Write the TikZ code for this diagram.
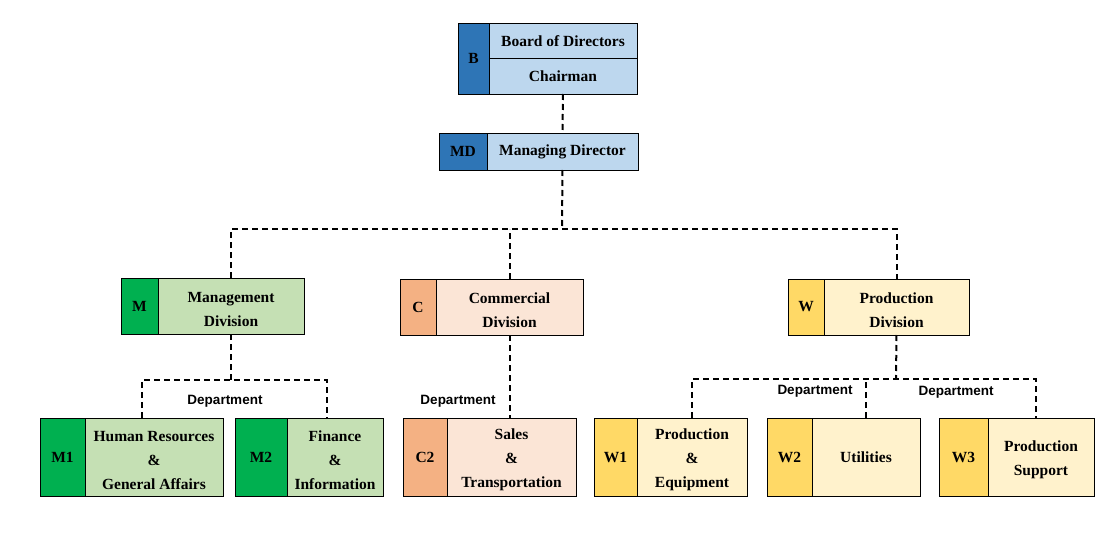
\documentclass[tikz,border=0pt]{standalone}
\usepackage{fontspec}
\setmainfont{Liberation Serif}
\newfontfamily\deptfont{Liberation Sans}
\usetikzlibrary{positioning}

\definecolor{blueD}{HTML}{2E75B6}
\definecolor{blueL}{HTML}{BDD7EE}
\definecolor{greenD}{HTML}{00B050}
\definecolor{greenL}{HTML}{C5E0B4}
\definecolor{orangeD}{HTML}{F4B183}
\definecolor{orangeL}{HTML}{FBE5D6}
\definecolor{yellowD}{HTML}{FFD966}
\definecolor{yellowL}{HTML}{FFF2CC}

% pushes multi-line labels a little lower
\newcommand{\lowstrut}{\rule{0pt}{17pt}}

\tikzset{
    box/.style = {draw, line width=0.8pt, inner sep=0pt, outer sep=0pt, align=center,
                  font=\bfseries\fontsize{15.5}{24}\selectfont},
    codebox/.style = {box, fill=#1},
    namebox/.style = {box, fill=#1},
    link/.style = {line width=2pt, dash pattern=on 6pt off 4pt},
    dept/.style = {font=\deptfont\bfseries\fontsize{13.5}{16}\selectfont, inner sep=0pt}
}

\begin{document}
\begin{tikzpicture}[x=1pt, y=-1pt]
    \useasboundingbox (0,0) rectangle (1111,556);

    % board
    \node [codebox=blueD, minimum width=31, minimum height=71] (bcode) at (473.5,58.5) {B};
    \node [namebox=blueL, minimum width=148, minimum height=35.5, anchor=north west] (board) at (bcode.north east) {Board of Directors};
    \node [namebox=blueL, minimum width=148, minimum height=35.5, below=0pt of board] (chair) {Chairman};

    % managing director
    \node [codebox=blueD, minimum width=48, minimum height=37] (mdcode) at (463,151.5) {MD};
    \node [namebox=blueL, minimum width=151, minimum height=37, right=0pt of mdcode] (mdname) {Managing Director};

    % divisions
    \node [codebox=greenD, minimum width=37, minimum height=56] (mcode) at (139.5,306) {M};
    \node [namebox=greenL, minimum width=146, minimum height=56, right=0pt of mcode] (mname) {\lowstrut Management\\Division};

    \node [codebox=orangeD, minimum width=36, minimum height=56] (ccode) at (418,307) {C};
    \node [namebox=orangeL, minimum width=147, minimum height=56, right=0pt of ccode] (cname) {\lowstrut Commercial\\Division};

    \node [codebox=yellowD, minimum width=36, minimum height=56] (wcode) at (806,307) {W};
    \node [namebox=yellowL, minimum width=145, minimum height=56, right=0pt of wcode] (wname) {\lowstrut Production\\Division};

    % departments
    \node [codebox=greenD, minimum width=45, minimum height=78] (m1code) at (62.5,457) {M1};
    \node [namebox=greenL, minimum width=138, minimum height=78, right=0pt of m1code] (m1name) {\lowstrut Human Resources\\\&\\General Affairs};

    \node [codebox=greenD, minimum width=52, minimum height=78] (m2code) at (261,457) {M2};
    \node [namebox=greenL, minimum width=96, minimum height=78, right=0pt of m2code] (m2name) {\lowstrut Finance\\\&\\Information};

    \node [codebox=orangeD, minimum width=44, minimum height=78] (c2code) at (425,457) {C2};
    \node [namebox=orangeL, minimum width=129, minimum height=78, right=0pt of c2code] (c2name) {\lowstrut Sales\\\&\\Transportation};

    \node [codebox=yellowD, minimum width=43, minimum height=78] (w1code) at (615.5,457) {W1};
    \node [namebox=yellowL, minimum width=110, minimum height=78, right=0pt of w1code] (w1name) {\lowstrut Production\\\&\\Equipment};

    \node [codebox=yellowD, minimum width=45, minimum height=78] (w2code) at (789.5,457) {W2};
    \node [namebox=yellowL, minimum width=108, minimum height=78, right=0pt of w2code] (w2name) {Utilities};

    \node [codebox=yellowD, minimum width=49, minimum height=78] (w3code) at (963.5,457) {W3};
    \node [namebox=yellowL, minimum width=106, minimum height=78, right=0pt of w3code] (w3name) {\lowstrut Production\\Support};

    % dashed links
    \coordinate (topbus) at (562,229);
    \coordinate (mbus) at (231,380);
    \coordinate (wbus) at (896,379);

    \draw [link] (chair.south) -- (mdname.north);
    \draw [link] (mdname.south) -- (topbus);
    \draw [link] (mname.north) |- (topbus) -| (wname.north);
    \draw [link] (cname.north) -- (cname.north |- topbus);

    \draw [link] (mname.south) -- (mbus);
    \draw [link] ([xshift=-12pt]m1name.north) |- (mbus) -| ([xshift=-8pt]m2name.north);

    \draw [link] (cname.south) -- (cname.south |- c2name.north);

    \draw [link] (wname.south) -- (wbus);
    \draw [link] (w1name.north) |- (wbus) -| ([xshift=-5pt]w3name.north);
    \draw [link] (w2name.north) -- (w2name.north |- wbus);

    % labels
    \node [dept] (mdept) at (225,401) {Department};
    \node [dept] (cdept) at (458,401) {Department};
    \node [dept] (w1dept) at (815,391) {Department};
    \node [dept] (w2dept) at (956,392) {Department};
\end{tikzpicture}
\end{document}
